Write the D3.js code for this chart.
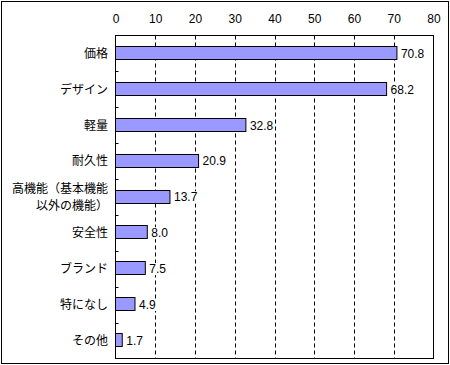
<!DOCTYPE html>
<html><head><meta charset="utf-8">
<script src="https://cdn.jsdelivr.net/npm/d3@7"></script>
<style>body{margin:0;background:#fff}svg{display:block}</style>
</head><body>
<script>
const categories = ["価格","デザイン","軽量","耐久性","高機能（基本機能\n以外の機能）","安全性","ブランド","特になし","その他"];
const values = [70.8,68.2,32.8,20.9,13.7,8.0,7.5,4.9,1.7];
const tickValues = [0,10,20,30,40,50,60,70,80];

const W=450,H=365;
const svg=d3.select("body").append("svg").attr("width",W).attr("height",H);
svg.append("rect").attr("x",1.5).attr("y",1.5).attr("width",447).attr("height",362)
  .attr("fill","#fff").attr("stroke","#000").attr("stroke-width",1);

const L=115.5,R=433.5,T=35.5,B=358.5;
const x=d3.scaleLinear().domain([0,80]).range([L,R]);
const y=d3.scaleBand().domain(categories).range([T,B]);

// gridlines
svg.append("g").selectAll("line").data(tickValues.filter(v=>v>0&&v<80)).join("line")
  .attr("x1",d=>Math.round(x(d))+0.5).attr("x2",d=>Math.round(x(d))+0.5)
  .attr("y1",T).attr("y2",B).attr("stroke","#000").attr("stroke-dasharray","4,3");

// plot frame
svg.append("rect").attr("x",L).attr("y",T).attr("width",R-L).attr("height",B-T)
  .attr("fill","none").attr("stroke","#000");

// top axis labels
const ax=d3.axisTop(x).tickValues(tickValues).tickSize(0).tickPadding(0);
const gA=svg.append("g").attr("transform",`translate(0,23)`).call(ax);
gA.select(".domain").remove();
gA.selectAll("text").attr("font-family","Liberation Sans, Arial, sans-serif").attr("font-size",12).attr("fill","#000");

// category boundary ticks (inside)
const bounds=categories.slice(1).map(c=>y(c));
svg.append("g").selectAll("line").data(bounds).join("line")
  .attr("x1",L).attr("x2",L+3).attr("y1",d=>Math.round(d)+0.5).attr("y2",d=>Math.round(d)+0.5)
  .attr("stroke","#000");

// bars
const bh=13;
svg.append("g").selectAll("rect").data(values).join("rect")
  .attr("x",L).attr("y",(d,i)=>Math.round(y(categories[i])+y.bandwidth()/2-bh/2)-0.5)
  .attr("width",d=>x(d)-L).attr("height",bh)
  .attr("fill","#9999FF").attr("stroke","#000").attr("stroke-width",1);

// value labels with white background
const gl=svg.append("g");
values.forEach((v,i)=>{
  const g=gl.append("g");
  const bg=g.append("rect").attr("fill","#fff");
  const t=g.append("text").attr("x",x(v)+4).attr("y",y(categories[i])+y.bandwidth()/2)
    .attr("dy","0.36em")
    .attr("font-family","Liberation Sans, Arial, sans-serif").attr("font-size",12)
    .text(v.toFixed(1));
  const bb=t.node().getBBox();
  bg.attr("x",bb.x-1).attr("y",bb.y+1).attr("width",bb.width+2).attr("height",bb.height-2);
});

// category labels
const gc=svg.append("g");
categories.forEach((c,i)=>{
  const lines=c.split("\n");
  const cy=y(c)+y.bandwidth()/2;
  lines.forEach((ln,j)=>{
    gc.append("text").attr("x",108).attr("text-anchor","end")
      .attr("font-family","Noto Sans CJK JP, sans-serif").attr("font-size",12)
      .attr("y",cy+(j-(lines.length-1)/2)*17).attr("dy","0.36em").text(ln);
  });
});
</script>
</body></html>
